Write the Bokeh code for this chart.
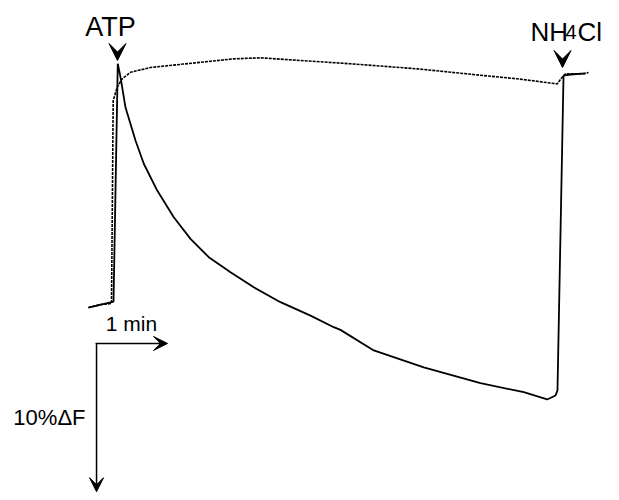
from bokeh.plotting import figure
from bokeh.models import Range1d, Arrow, VeeHead
from bokeh.core.properties import value
from bokeh.embed import file_html
from bokeh.resources import INLINE

# Trace 1 (solid): time in min, fluorescence change in %
solid_t = [-0.306, 0.0, 0.042, 0.101, 0.139, 0.208, 0.347, 0.4625, 0.649, 0.879,
           1.111, 1.365, 1.667, 1.990, 2.361, 2.778, 3.101, 3.194, 3.657, 4.351,
           5.139, 5.740, 6.065, 6.181, 6.208, 6.292, 6.389, 6.597]
solid_f = [-0.27, 0.07, 0.13, 16.09, 15.19, 13.17, 10.94, 9.38, 7.58, 5.79,
           4.34, 3.11, 2.10, 1.09, 0.09, -0.81, -1.59, -1.77, -3.15, -4.28,
           -5.35, -5.95, -6.44, -6.17, -5.84, 15.30, 15.37, 15.44]

# Trace 2 (dotted)
dotted_t = [-0.306, -0.139, 0.014, 0.0375, 0.093, 0.1625, 0.278, 0.556, 1.014,
            1.713, 2.083, 2.639, 3.333, 4.26, 5.181, 5.649, 6.204, 6.274, 6.319,
            6.574, 6.64]
dotted_f = [-0.27, -0.07, 0.0, 13.62, 14.52, 15.08, 15.52, 15.84, 16.07,
            16.42, 16.49, 16.31, 16.09, 15.75, 15.30, 15.08, 14.74, 15.19, 15.42,
            15.42, 15.5]

# Additions
atp_time = 0.097
atp_tip = 16.31
nh4_time = 6.278
nh4_tip = 15.84

# Scale bars
bar_t0 = -0.208
bar_f0 = -2.68
bar_dt = 1.0      # 1 min
bar_df = 10.0     # 10 %dF

FONT = value("Liberation Sans")

p = figure(width=619, height=500, output_backend="svg", toolbar_location=None,
           x_range=Range1d(-1.5278, 7.0694), y_range=Range1d(-13.22, 20.336),
           min_border=0)
p.axis.visible = False
p.grid.visible = False
p.outline_line_color = None
p.background_fill_color = "white"

p.line(dotted_t, dotted_f, line_color="black", line_width=1.6, line_dash="3 1")
p.line(solid_t, solid_f, line_color="black", line_width=1.8)

# addition markers
for t, tip in [(atp_time, atp_tip), (nh4_time, nh4_tip)]:
    p.add_layout(Arrow(x_start=t, y_start=tip + 1.0, x_end=t, y_end=tip,
                       line_alpha=0,
                       end=VeeHead(size=17, fill_color="black", line_color="black", line_width=1)))

p.text(x=[atp_time], y=[17.99], text=["ATP"], text_font=FONT, text_font_size="27px",
       text_align="center", text_baseline="alphabetic", x_offset=-7, y_offset=-8,
       text_color="black")
p.text(x=[nh4_time], y=[17.65], text=["NH"], text_font=FONT, text_font_size="26px",
       text_align="left", text_baseline="alphabetic", x_offset=-32, y_offset=-9,
       text_color="black")
p.text(x=[nh4_time], y=[17.65], text=["4"], text_font=FONT, text_font_size="20px",
       text_align="left", text_baseline="alphabetic", x_offset=3, y_offset=-9,
       text_color="black")
p.text(x=[nh4_time], y=[17.65], text=["Cl"], text_font=FONT, text_font_size="26px",
       text_align="left", text_baseline="alphabetic", x_offset=15, y_offset=-9,
       text_color="black")

# scale bars
p.add_layout(Arrow(x_start=bar_t0, y_start=bar_f0, x_end=bar_t0 + bar_dt, y_end=bar_f0,
                   line_color="black", line_width=1.5,
                   end=VeeHead(size=14, fill_color="black", line_color="black", line_width=1)))
p.add_layout(Arrow(x_start=bar_t0 + 0.014, y_start=bar_f0, x_end=bar_t0 + 0.014, y_end=bar_f0 - bar_df + 0.05,
                   line_color="black", line_width=1.5,
                   end=VeeHead(size=14, fill_color="black", line_color="black", line_width=1)))

p.text(x=[bar_t0 + 0.5], y=[bar_f0], text=["1 min"], text_font=FONT, text_font_size="21px",
       text_align="center", text_baseline="middle", y_offset=-20, text_color="black")
p.text(x=[bar_t0], y=[bar_f0 - bar_df / 2], text=["10%ΔF"], text_font=FONT, text_font_size="22px",
       text_align="right", text_baseline="middle", x_offset=-10, text_color="black")

open("out.html", "w").write(file_html(p, INLINE))
